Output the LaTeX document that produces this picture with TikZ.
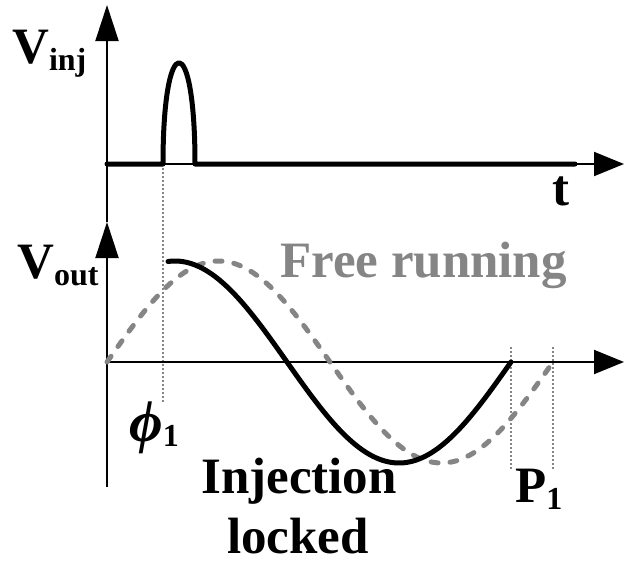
\documentclass[tikz,border=0pt]{standalone}
\usepackage{fontspec}
\setmainfont{Liberation Serif}
\usetikzlibrary{arrows.meta}
\definecolor{frgray}{HTML}{858585}
\tikzset{
  haxis/.style={line width=2pt, -{Triangle[length=30pt,width=24pt]}},
  vaxis/.style={line width=2pt, -{Triangle[length=36pt,width=23pt]}},
  sig/.style={line width=5pt, line cap=round, line join=round},
  freerun/.style={line width=5pt, draw=frgray, line cap=round, dash pattern=on 7pt off 12pt},
  guide/.style={line width=1.2pt, draw=frgray, dash pattern=on 2pt off 2pt},
  lbl/.style={font=\bfseries\fontsize{51}{51}\selectfont, inner sep=0pt},
}
\newcommand{\subsz}[1]{\raisebox{-7pt}{\fontsize{32}{32}\selectfont #1}}
\begin{document}
\begin{tikzpicture}[x=1pt,y=-1pt]
\useasboundingbox (0,0) rectangle (624,562);
% axes coordinates
\coordinate (o1) at (107,164);
\coordinate (x1) at (624,164);
\coordinate (mid) at (107,222);
\coordinate (y1) at (107,5);
\coordinate (o2) at (107,362);
\coordinate (x2) at (624,362);
\coordinate (ybot) at (107,487);
% guide lines
\coordinate (g1a) at (163,164); \coordinate (g1b) at (163,403);
\coordinate (g2a) at (511,347); \coordinate (g2b) at (511,470);
\coordinate (g3a) at (553,347); \coordinate (g3b) at (553,470);
\draw[guide] (g1a) -- (g1b);
\draw[guide] (g2a) -- (g2b);
\draw[guide] (g3a) -- (g3b);
% axes
\draw[haxis] (o1) -- (x1);
\draw[vaxis] (mid) -- (y1);
\draw[haxis] (o2) -- (x2);
\draw[vaxis] (ybot) -- (mid);
% injection pulse
\coordinate (p0) at (163,164);
\coordinate (p1) at (195,164);
\coordinate (tend) at (575,164);
\draw[sig] (o1) -- (p0) .. controls (163,29) and (195,29) .. (p1) -- (tend);
% free running (dashed)
\draw[freerun] plot[domain=107:553, samples=120] (\x, {362-101*sin((\x-107)/446*360)});
% injection locked (solid)
\draw[sig] plot[domain=168:511, samples=120] (\x, {362-101*cos((\x-175)/448*360)});
% labels
\node[lbl, anchor=base west] (vinj) at (12,63) {V\subsz{inj}};
\node[lbl, anchor=base west] (vout) at (17,278) {V\subsz{out}};
\node[lbl, anchor=base west] (tl) at (552,205) {t};
\node[lbl, anchor=base west, text=frgray] (fr) at (280,277) {Free running};
\node[lbl, anchor=base] (inj) at (299,493) {Injection};
\node[lbl, anchor=base] (lck) at (298,553) {locked};
\node[lbl, anchor=base west] (p1l) at (515,502) {P\subsz{1}};
\node[lbl, anchor=base west] (phil) at (129,441) {{\fontsize{58}{58}\selectfont\itshape ϕ}\raisebox{-5pt}{\fontsize{32}{32}\selectfont 1}};
\end{tikzpicture}
\end{document}
